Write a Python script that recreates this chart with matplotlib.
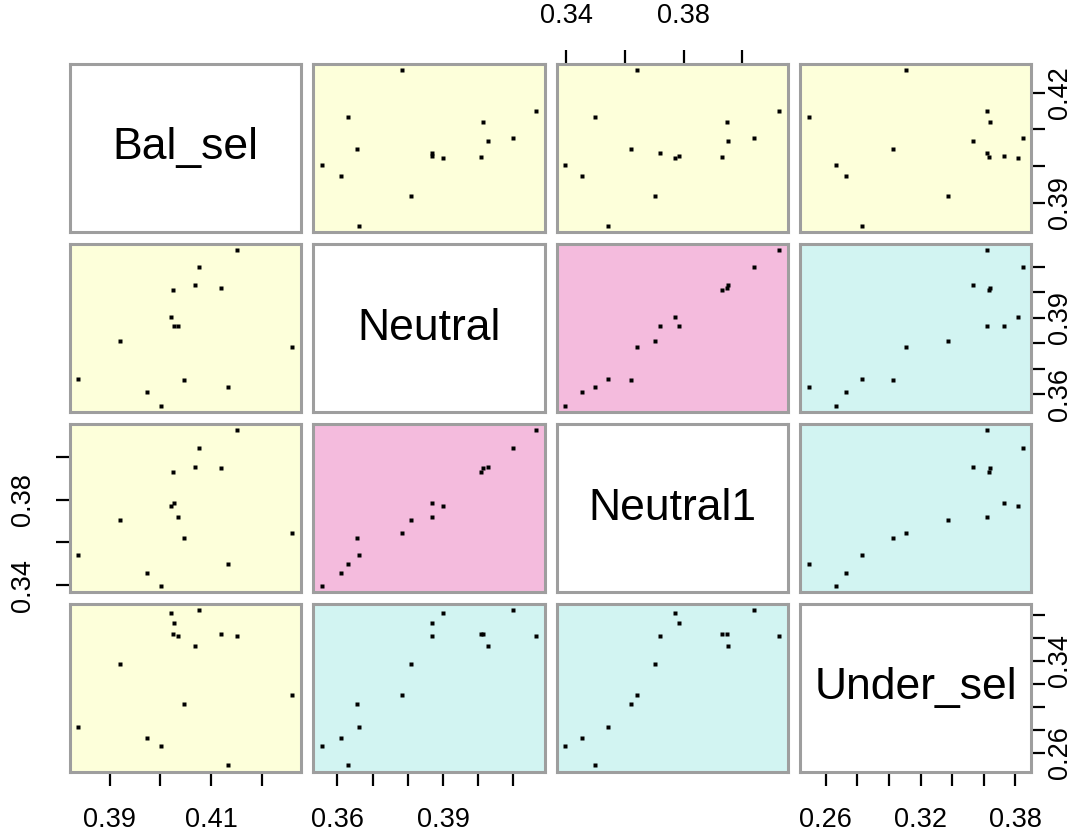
import matplotlib
matplotlib.use("Agg")
import matplotlib.pyplot as plt
import numpy as np

plt.rcParams["font.family"] = ["Liberation Sans", "DejaVu Sans"]

# ---- data -------------------------------------------------------------
names = ["Bal_sel", "Neutral", "Neutral1", "Under_sel"]

bal_sel = [0.4261, 0.4134, 0.4046, 0.4002, 0.3974, 0.3919, 0.3837, 0.4035,
           0.4027, 0.4021, 0.4024, 0.4120, 0.4068, 0.4076, 0.4151]
neutral = [0.3784, 0.3629, 0.3655, 0.3555, 0.3609, 0.3809, 0.3661, 0.3869,
           0.3869, 0.3901, 0.4009, 0.4015, 0.4027, 0.4098, 0.4164]
neutral1 = [0.3642, 0.3499, 0.3621, 0.3397, 0.3455, 0.3703, 0.3543, 0.3721,
            0.3785, 0.3772, 0.3932, 0.3949, 0.3952, 0.4041, 0.4126]
under_sel = [0.3106, 0.2492, 0.3024, 0.2663, 0.2727, 0.3372, 0.2828, 0.3619,
             0.3727, 0.3815, 0.3632, 0.3638, 0.3530, 0.3847, 0.3619]

# panel colour class for each pair (0 = yellow, 1 = cyan, 2 = pink)
panel_class = [
    [None, 0, 0, 0],
    [0, None, 2, 1],
    [0, 2, None, 1],
    [0, 1, 1, None],
]
class_colors = ["#FDFFDA", "#D2F4F2", "#F4BBDD"]

# axis ticks and the subset that gets a printed label
ticks = {
    0: [0.39, 0.40, 0.41, 0.42],
    1: [0.36, 0.37, 0.38, 0.39, 0.40, 0.41],
    2: [0.34, 0.36, 0.38, 0.40],
    3: [0.26, 0.28, 0.30, 0.32, 0.34, 0.36, 0.38],
}
x_labels = {0: ["0.39", "0.41"], 1: ["0.36", "0.39"], 2: ["0.34", "0.38"],
            3: ["0.26", "0.32", "0.38"]}
y_labels = {0: ["0.39", "0.42"], 1: ["0.36", "0.39"], 2: ["0.34", "0.38"],
            3: ["0.26", "0.34"]}
x_side = {0: "bottom", 1: "bottom", 2: "top", 3: "bottom"}
y_side = {0: "right", 1: "right", 2: "left", 3: "right"}

data = [np.array(bal_sel), np.array(neutral), np.array(neutral1), np.array(under_sel)]

# ---- layout -----------------------------------------------------------
W, H = 1089, 836
fig = plt.figure(figsize=(W / 100, H / 100), dpi=100)

col_left = [69.5, 313.0, 556.5, 800.0]
row_top = [64.0, 244.0, 424.0, 603.5]
pw, ph = 231.5, 168.0

tick_fs = 19.5
diag_fs = 32
edge = "#9E9E9E"


def lims(v):
    lo, hi = v.min(), v.max()
    r = hi - lo
    return lo - 0.04 * r, hi + 0.04 * r


def fmt(vals, shown):
    return [("%.2f" % t) if ("%.2f" % t) in shown else "" for t in vals]


n = len(names)
for i in range(n):
    for j in range(n):
        ax = fig.add_axes([col_left[j] / W, 1 - (row_top[i] + ph) / H, pw / W, ph / H])
        ax.set_xlim(*lims(data[j]))
        ax.set_ylim(*lims(data[i]))
        for s in ax.spines.values():
            s.set_color(edge)
            s.set_linewidth(2.2)
        ax.tick_params(which="both", length=0, labelbottom=False, labelleft=False,
                       bottom=False, left=False)
        ax.set_xticks([])
        ax.set_yticks([])

        if i == j:
            ax.set_facecolor("white")
            ax.text(0.5, 0.5, names[i], transform=ax.transAxes, ha="center",
                    va="center", fontsize=diag_fs)
        else:
            ax.set_facecolor(class_colors[panel_class[i][j]])
            ax.plot(data[j], data[i], ls="none", marker="s", ms=3.3,
                    mec="none", mfc="black")

        # outer axes
        if (x_side[j] == "bottom" and i == n - 1) or (x_side[j] == "top" and i == 0):
            side = x_side[j]
            ax.set_xticks(ticks[j])
            ax.set_xticklabels(fmt(ticks[j], x_labels[j]))
            ax.tick_params(axis="x", direction="out", length=10, width=1.6,
                           color="black", labelsize=tick_fs, pad=15.5,
                           bottom=(side == "bottom"), labelbottom=(side == "bottom"),
                           top=(side == "top"), labeltop=(side == "top"))
        if (y_side[i] == "right" and j == n - 1) or (y_side[i] == "left" and j == 0):
            side = y_side[i]
            ax.set_yticks(ticks[i])
            ax.set_yticklabels(fmt(ticks[i], y_labels[i]), rotation=90,
                               va="center")
            ax.tick_params(axis="y", direction="out", length=10, width=1.6,
                           color="black", labelsize=tick_fs,
                           pad=(1 if side == "right" else 14),
                           left=(side == "left"), labelleft=(side == "left"),
                           right=(side == "right"), labelright=(side == "right"))

fig.savefig("out.png", dpi=100, facecolor="white")
